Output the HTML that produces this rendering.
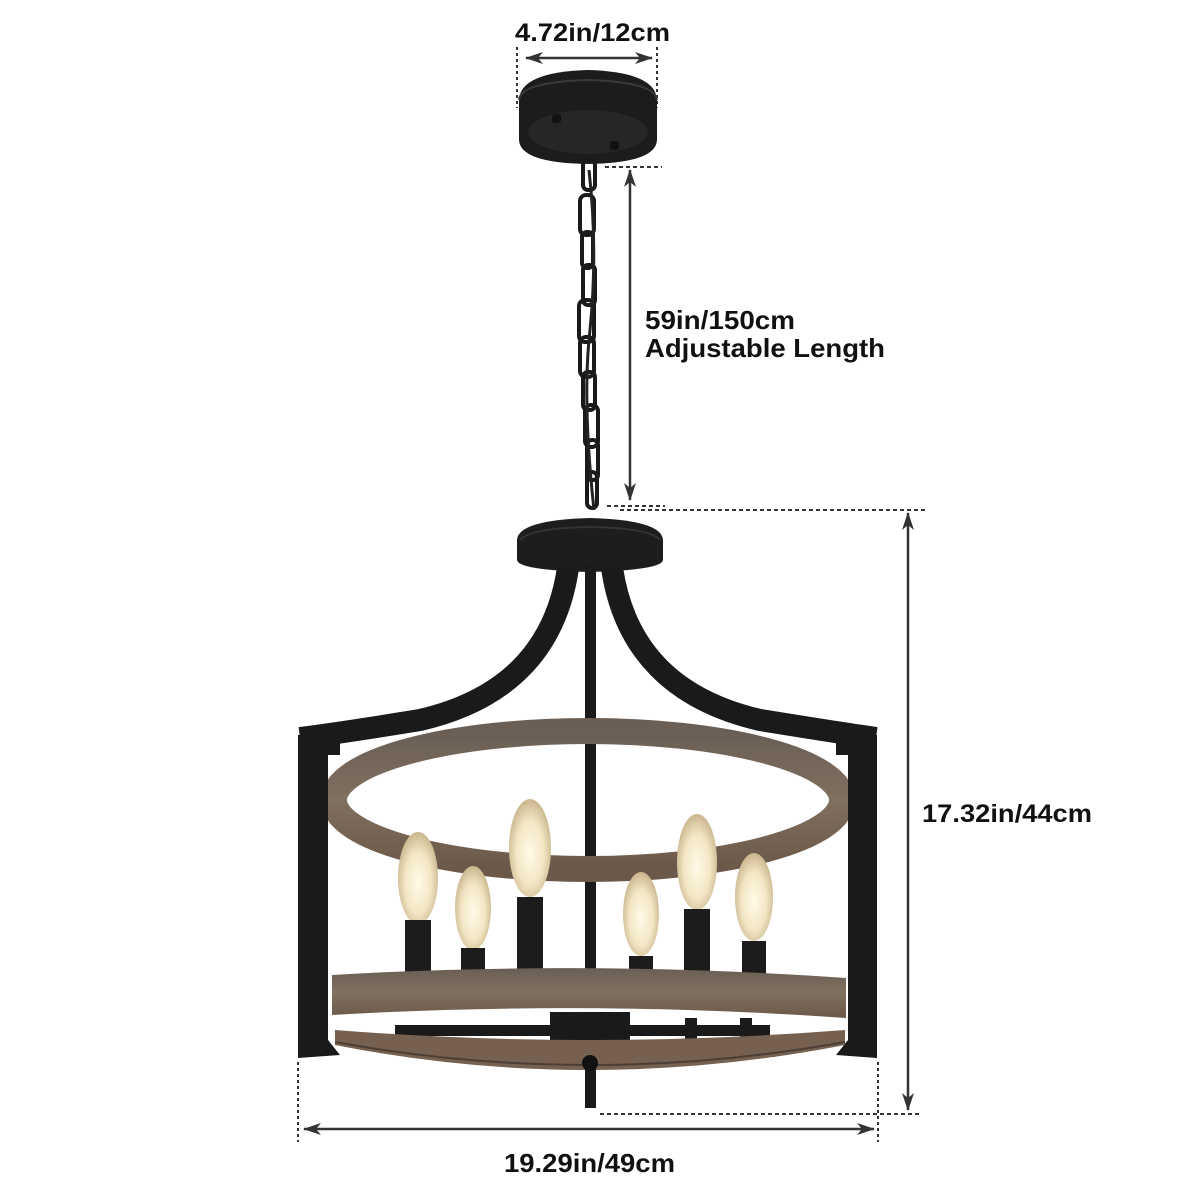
<!DOCTYPE html>
<html><head><meta charset="utf-8"><style>
html,body{margin:0;padding:0;background:#fff;width:1200px;height:1200px;overflow:hidden}
svg{display:block}
text{font-family:"Liberation Sans",Arial,sans-serif;font-weight:bold;fill:#111}
</style></head><body>
<svg width="1200" height="1200" viewBox="0 0 1200 1200" xmlns="http://www.w3.org/2000/svg">
<defs>
<marker id="ah" viewBox="0 0 18 12" refX="17" refY="6" markerWidth="18" markerHeight="12" orient="auto-start-reverse" markerUnits="userSpaceOnUse"><path d="M0,0 L18,6 L0,12 L5,6 z" fill="#333"/></marker>
<radialGradient id="bulb" cx="50%" cy="55%" r="55%"><stop offset="0" stop-color="#fffbe8"/><stop offset="0.6" stop-color="#f3e6c4"/><stop offset="1" stop-color="#c9b68e"/></radialGradient>
<linearGradient id="wood" x1="0" y1="0" x2="0" y2="1"><stop offset="0" stop-color="#6a5e55"/><stop offset="0.5" stop-color="#80705f"/><stop offset="1" stop-color="#6b5848"/></linearGradient>
</defs>

<!-- Top dimension -->
<text x="515" y="41" font-size="25" textLength="155" lengthAdjust="spacingAndGlyphs">4.72in/12cm</text>
<line x1="517" y1="47" x2="517" y2="108" stroke="#333" stroke-width="2" stroke-dasharray="3,3"/>
<line x1="657" y1="47" x2="657" y2="108" stroke="#333" stroke-width="2" stroke-dasharray="3,3"/>
<line x1="526" y1="58" x2="652" y2="58" stroke="#333" stroke-width="2.5" marker-start="url(#ah)" marker-end="url(#ah)"/>

<!-- Top canopy -->
<path d="M519,100 Q520,72 588,70 Q656,72 657,100 L657,140 Q656,163 588,164 Q520,163 519,140 Z" fill="#1c1c1c"/>
<path d="M519,100 Q520,82 588,80 Q656,82 657,100" fill="none" stroke="#3a3a3a" stroke-width="2"/>
<ellipse cx="588" cy="132" rx="60" ry="22" fill="#262626"/>
<rect x="552" y="114" width="9" height="9" rx="3" fill="#111"/>
<rect x="610" y="141" width="9" height="9" rx="3" fill="#111"/>

<!-- chain -->
<g fill="none" stroke="#1a1a1a" stroke-width="4">
<rect x="583" y="160" width="12" height="30" rx="5"/>
<rect x="580" y="195" width="14" height="40" rx="6"/>
<rect x="582" y="232" width="11" height="36" rx="5"/>
<rect x="583" y="265" width="12" height="40" rx="5"/>
<rect x="579" y="300" width="15" height="42" rx="6"/>
<rect x="580" y="337" width="14" height="40" rx="6"/>
<rect x="583" y="372" width="12" height="38" rx="5"/>
<rect x="585" y="405" width="13" height="42" rx="6"/>
<rect x="587" y="440" width="11" height="40" rx="5"/>
<rect x="587" y="472" width="10" height="36" rx="5"/>
</g>
<path d="M589,170 Q598,250 590,330 Q582,400 594,510" fill="none" stroke="#222" stroke-width="3"/>

<!-- chain length dimension -->
<line x1="605" y1="167" x2="662" y2="167" stroke="#333" stroke-width="2" stroke-dasharray="4,3"/>
<line x1="630" y1="170" x2="630" y2="500" stroke="#333" stroke-width="2.5" marker-start="url(#ah)" marker-end="url(#ah)"/>
<text x="645" y="329" font-size="26" textLength="150" lengthAdjust="spacingAndGlyphs">59in/150cm</text>
<text x="645" y="357" font-size="26" textLength="240" lengthAdjust="spacingAndGlyphs">Adjustable Length</text>
<line x1="607" y1="506" x2="665" y2="506" stroke="#333" stroke-width="2" stroke-dasharray="4,3"/>
<line x1="620" y1="510" x2="925" y2="510" stroke="#333" stroke-width="2" stroke-dasharray="4,3"/>

<!-- height dimension -->
<line x1="908" y1="513" x2="908" y2="1110" stroke="#333" stroke-width="2.5" marker-start="url(#ah)" marker-end="url(#ah)"/>
<text x="922" y="822" font-size="25" textLength="170" lengthAdjust="spacingAndGlyphs">17.32in/44cm</text>

<!-- lower canopy -->
<path d="M517,540 Q518,520 590,518 Q662,520 663,540 L663,560 Q662,570 590,572 Q518,570 517,560 Z" fill="#1d1d1d"/>
<path d="M520,540 Q530,528 590,527 Q650,528 660,540" fill="none" stroke="#333" stroke-width="2"/>

<!-- arms -->
<path d="M568,568 Q550,690 420,720 Q340,733 300,738" fill="none" stroke="#1a1a1a" stroke-width="22"/>
<path d="M612,568 Q630,690 760,720 Q840,733 876,738" fill="none" stroke="#1a1a1a" stroke-width="22"/>

<!-- center rod -->
<rect x="585" y="565" width="11" height="440" fill="#1a1a1a"/>

<!-- top ring -->
<ellipse cx="588" cy="800" rx="254" ry="69" fill="none" stroke="url(#wood)" stroke-width="26"/>

<!-- posts -->
<path d="M298,735 L340,735 L340,755 L328,755 L328,1040 L340,1055 L298,1058 Z" fill="#1a1a1a"/>
<path d="M877,735 L836,735 L836,755 L848,755 L848,1040 L836,1055 L877,1058 Z" fill="#1a1a1a"/>

<!-- sockets & bulbs -->
<g>
<ellipse cx="418" cy="878" rx="20" ry="46" fill="url(#bulb)"/><rect x="405" y="920" width="26" height="62" fill="#1c1c1c"/>
<ellipse cx="473" cy="908" rx="18" ry="42" fill="url(#bulb)"/><rect x="461" y="948" width="24" height="34" fill="#1c1c1c"/>
<ellipse cx="530" cy="848" rx="21" ry="49" fill="url(#bulb)"/><rect x="517" y="897" width="26" height="85" fill="#1c1c1c"/>
<ellipse cx="641" cy="914" rx="18" ry="42" fill="url(#bulb)"/><rect x="629" y="956" width="24" height="26" fill="#1c1c1c"/>
<ellipse cx="697" cy="862" rx="20" ry="48" fill="url(#bulb)"/><rect x="684" y="909" width="26" height="73" fill="#1c1c1c"/>
<ellipse cx="754" cy="897" rx="19" ry="44" fill="url(#bulb)"/><rect x="742" y="941" width="24" height="41" fill="#1c1c1c"/>
</g>

<!-- spider arms -->
<g fill="#1a1a1a">
<rect x="395" y="1025" width="190" height="11"/>
<rect x="440" y="1045" width="150" height="12"/>
<rect x="600" y="1025" width="170" height="11"/>
<rect x="600" y="1045" width="175" height="12"/>
<ellipse cx="590" cy="1052" rx="60" ry="16"/>
<rect x="550" y="1012" width="80" height="40"/>
<rect x="685" y="1018" width="12" height="22"/>
<rect x="740" y="1018" width="12" height="26"/>
</g>

<!-- lower ring -->
<path d="M332,975 Q588,960 846,978 L846,1018 Q588,1000 332,1015 Z" fill="url(#wood)"/>
<path d="M335,1030 Q588,1050 845,1030 L845,1045 Q588,1095 335,1045 Z" fill="#76604f"/>
<path d="M335,1042 Q588,1088 845,1042" fill="none" stroke="#4c3e34" stroke-width="2"/>
<rect x="585" y="1060" width="11" height="48" fill="#1a1a1a"/>
<circle cx="590" cy="1063" r="8" fill="#111"/>

<!-- width dimension -->
<line x1="298" y1="1062" x2="298" y2="1142" stroke="#333" stroke-width="2" stroke-dasharray="3,3"/>
<line x1="878" y1="1062" x2="878" y2="1142" stroke="#333" stroke-width="2" stroke-dasharray="3,3"/>
<line x1="600" y1="1114" x2="922" y2="1114" stroke="#333" stroke-width="2" stroke-dasharray="4,3"/>
<line x1="304" y1="1129" x2="874" y2="1129" stroke="#333" stroke-width="2.5" marker-start="url(#ah)" marker-end="url(#ah)"/>
<text x="504" y="1172" font-size="26" textLength="171" lengthAdjust="spacingAndGlyphs">19.29in/49cm</text>
</svg>
</body></html>
